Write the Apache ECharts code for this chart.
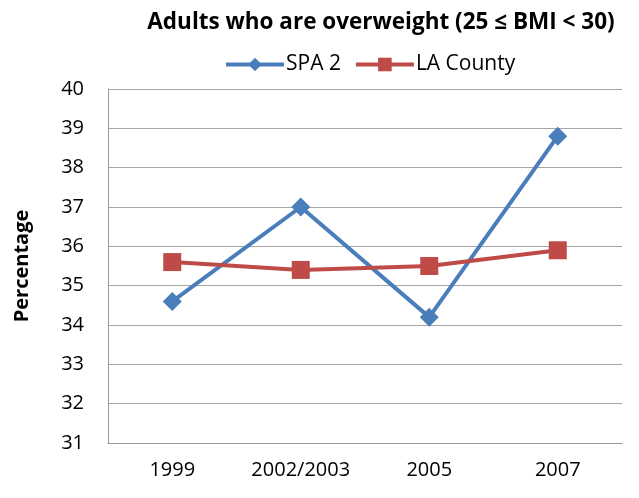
<!DOCTYPE html>
<html lang="en">
<head>
    <meta charset="UTF-8">
    <title>Adults who are overweight</title>
    <style>
        html, body { margin: 0; padding: 0; background: #fff; }
        #main { width: 639px; height: 498px; }
    </style>
</head>
<body>
    <div id="main"></div>
    <script src="https://cdn.jsdelivr.net/npm/echarts@6.0.0/dist/echarts.min.js"></script>
    <script>
        const years = ['1999', '2002/2003', '2005', '2007'];
        const spa2 = [34.6, 37.0, 34.2, 38.8];
        const laCounty = [35.6, 35.4, 35.5, 35.9];

        const font = 'Open Sans, Noto Sans, sans-serif';
        const myChart = echarts.init(document.getElementById('main'));
        const option = {
            animation: false,
            title: {
                text: 'Adults who are overweight (25 \u2264 BMI < 30)',
                left: 376,
                textAlign: 'center',
                top: 6,
                textStyle: { fontFamily: font, fontSize: 22.5, fontWeight: 'bold', color: '#000' }
            },
            legend: {
                top: 49,
                left: 219,
                itemWidth: 58,
                itemHeight: 17,
                itemGap: 13,
                textStyle: { fontFamily: font, fontSize: 21, color: '#000', padding: [0, 0, 0, -3] },
                lineStyle: { width: 4 },
                data: ['SPA 2', 'LA County']
            },
            grid: { left: 108, right: 17, top: 89, bottom: 55 },
            xAxis: {
                type: 'category',
                data: years,
                axisTick: { show: false },
                axisLine: { lineStyle: { color: '#9a9a9a', width: 1 } },
                axisLabel: { fontFamily: font, fontSize: 20, color: '#000', margin: 17 }
            },
            yAxis: {
                type: 'value',
                min: 31,
                max: 40,
                interval: 1,
                name: 'Percentage',
                nameLocation: 'middle',
                nameGap: 76,
                nameTextStyle: { fontFamily: font, fontSize: 20, fontWeight: 'bold', color: '#000' },
                axisLine: { show: true, lineStyle: { color: '#9a9a9a', width: 1 } },
                axisTick: { show: false },
                splitLine: { lineStyle: { color: '#a6a6a6', width: 1 } },
                axisLabel: { fontFamily: font, fontSize: 20, color: '#000', margin: 24 }
            },
            series: [
                {
                    name: 'SPA 2',
                    type: 'line',
                    data: spa2,
                    symbol: 'diamond',
                    symbolSize: 19,
                    color: '#4a7ebb',
                    lineStyle: { width: 4 }
                },
                {
                    name: 'LA County',
                    type: 'line',
                    data: laCounty,
                    symbol: 'rect',
                    symbolSize: 18,
                    color: '#be4b48',
                    lineStyle: { width: 4 }
                }
            ]
        };
        myChart.setOption(option);
    </script>
</body>
</html>
